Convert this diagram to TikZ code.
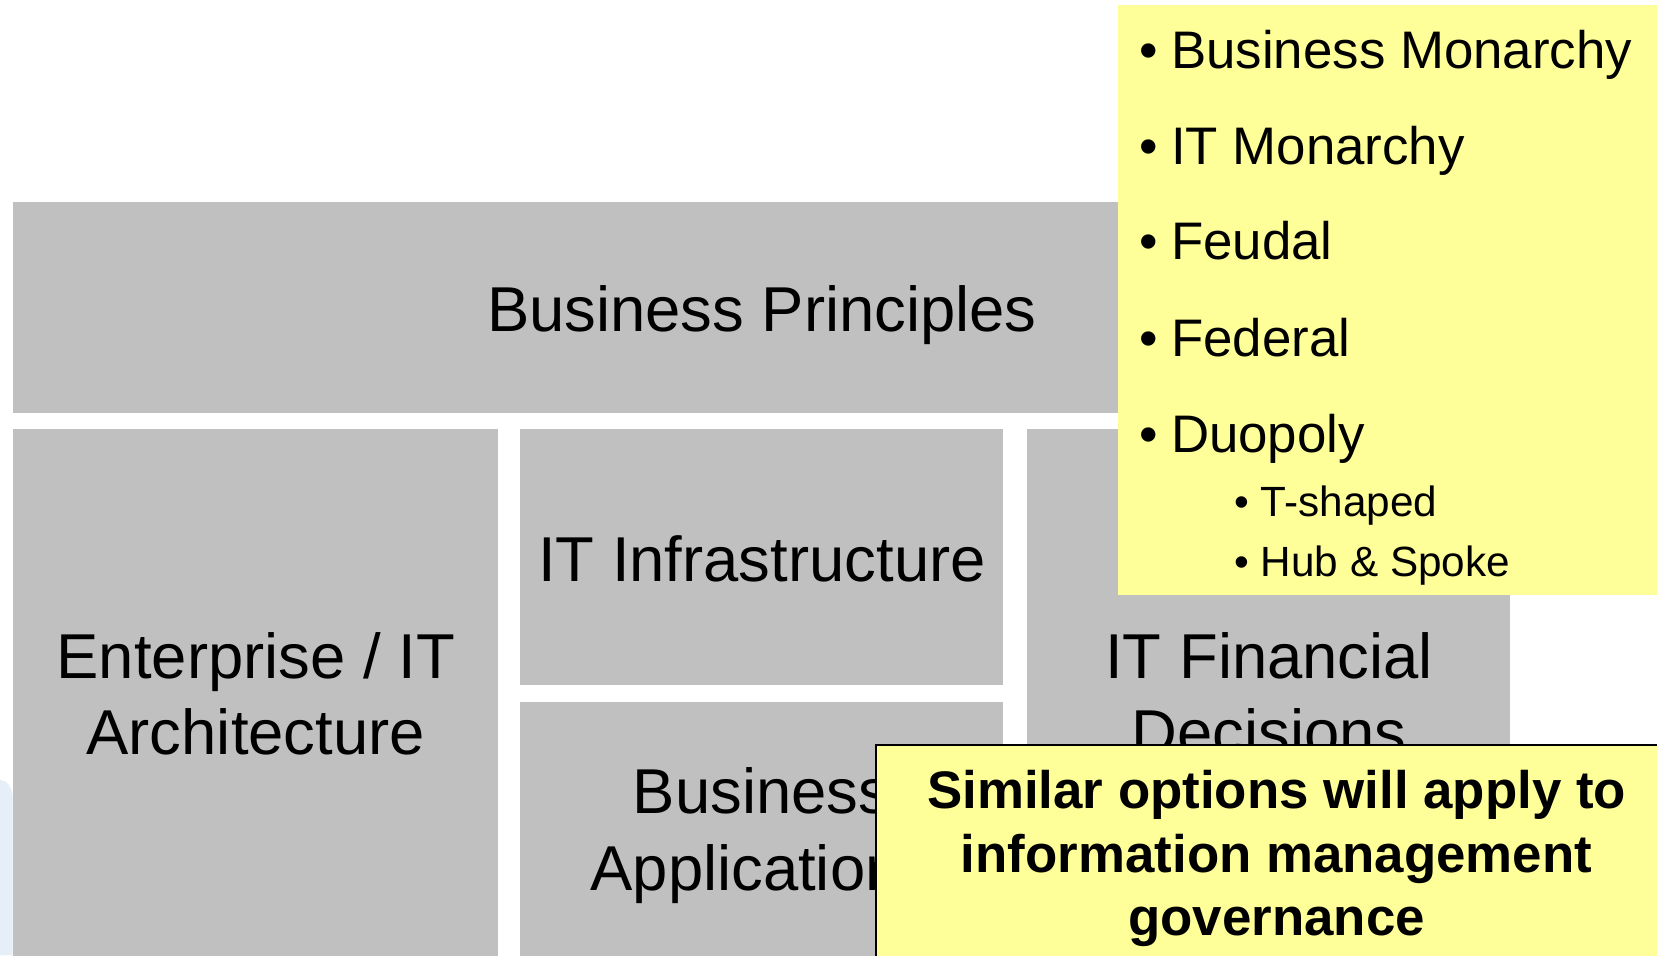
\documentclass[tikz,border=0pt]{standalone}
\usepackage{fontspec}
\setmainfont{Liberation Sans}
\definecolor{boxgray}{HTML}{C0C0C0}
\definecolor{noteyellow}{HTML}{FFFF99}
\definecolor{faintblue}{HTML}{E6EEF8}
\tikzset{
  graybox/.style={fill=boxgray, draw=none, inner sep=0pt, outer sep=0pt, anchor=north west},
  yellowbox/.style={fill=noteyellow, draw=none, inner sep=0pt, outer sep=0pt, anchor=north west},
  notebox/.style={fill=noteyellow, draw=black, line width=2pt, inner sep=0pt, outer sep=0pt, anchor=north west},
  bigtext/.style={font=\fontsize{60}{72}\selectfont, inner sep=0pt, align=center, text=black},
  bullettext/.style={font=\fontsize{50}{60}\selectfont, inner sep=0pt, anchor=base west},
  subbullettext/.style={font=\fontsize{40}{48}\selectfont, inner sep=0pt, anchor=base west},
  notetext/.style={font=\bfseries\fontsize{50}{60}\selectfont, inner sep=0pt, align=center, anchor=north},
}
\begin{document}
\begin{tikzpicture}[x=1pt,y=-1pt]
\useasboundingbox (0,0) rectangle (1568,904);
\clip (0,0) rectangle (1568,904);
\fill[white] (0,0) rectangle (1568,904);
\fill[faintblue] (0,738) .. controls (6,738) and (12,745) .. (12,755) -- (12,904) -- (0,904) -- cycle;

% gray blocks
\node[graybox, minimum width=1417pt, minimum height=200pt] (bp) at (12,191) {};
\node[graybox, minimum width=459pt, minimum height=503pt] (ea) at (12,406) {};
\node[graybox, minimum width=457pt, minimum height=242pt] (iti) at (492,406) {};
\node[graybox, minimum width=457pt, minimum height=245pt] (ba) at (492,664) {};
\node[graybox, minimum width=457pt, minimum height=503pt] (itf) at (972,406) {};

% block labels
\node[bigtext, anchor=base] (bpt) at (721,314) {Business Principles};
\node[bigtext, anchor=base] (itit) at (721,550) {IT Infrastructure};
\node[bigtext, anchor=north] (eat) at (242,591.6) {Enterprise / IT\strut\\Architecture\strut};
\node[bigtext, anchor=north] (bat) at (720.5,719.6) {Business\strut\\Applications\strut};
\node[bigtext, anchor=north] (itft) at (1201,591.6) {IT Financial\strut\\Decisions\strut};

% archetype list
\node[yellowbox, minimum width=530pt, minimum height=558pt] (arch) at (1058,5) {};
\node[bullettext] (b1) at (1078,65) {\makebox[30pt][l]{\textbullet}Business Monarchy};
\node[bullettext] (b2) at (1078,156) {\makebox[30pt][l]{\textbullet}IT Monarchy};
\node[bullettext] (b3) at (1078,246) {\makebox[30pt][l]{\textbullet}Feudal};
\node[bullettext] (b4) at (1078,337) {\makebox[30pt][l]{\textbullet}Federal};
\node[bullettext] (b5) at (1078,428) {\makebox[30pt][l]{\textbullet}Duopoly};
\node[subbullettext] (s1) at (1168,489) {\makebox[25pt][l]{\textbullet}T-shaped};
\node[subbullettext] (s2) at (1168,546) {\makebox[25pt][l]{\textbullet}Hub \& Spoke};

% note
\node[notebox, minimum width=770pt, minimum height=240pt] (note) at (829,705) {};
\node[notetext] (nt) at (1208,723) {Similar options will apply to\strut\\information management\strut\\governance\strut};
\end{tikzpicture}
\end{document}
